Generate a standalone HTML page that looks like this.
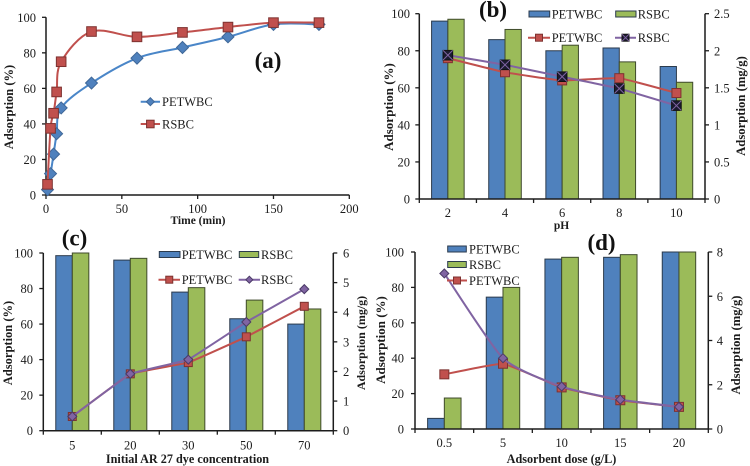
<!DOCTYPE html>
<html>
<head>
<meta charset="utf-8">
<style>
html,body{margin:0;padding:0;background:#fff;width:750px;height:466px;overflow:hidden}
svg{display:block;font-family:"Liberation Serif",serif;fill:#1c1c1c;filter:blur(0.35px)}
.t{font-size:12.5px}
.b{font-size:12.5px;font-weight:bold}
.p{font-size:23px;font-weight:bold;fill:#111}
</style>
</head>
<body>
<svg id="figure" width="750" height="466" viewBox="0 0 750 466" xmlns="http://www.w3.org/2000/svg">
<g id="chart-layer"></g>
<g>
<text class="p" x="268" y="68" text-anchor="middle">(a)</text>
<text class="p" x="493" y="17" text-anchor="middle">(b)</text>
<text class="p" x="74.5" y="245.5" text-anchor="middle">(c)</text>
<text class="p" x="601.5" y="250" text-anchor="middle">(d)</text>
</g>
<g>
<text class="b" style="font-size:11.5px" x="198" y="224" text-anchor="middle">Time (min)</text>
<text class="b" transform="translate(13,107) rotate(-90)" text-anchor="middle">Adsorption (%)</text>
<text class="b" style="font-size:11.5px" x="561.5" y="229" text-anchor="middle">pH</text>
<text class="b" style="font-size:13px" transform="translate(393,107) rotate(-90)" text-anchor="middle">Adsorption (%)</text>
<text class="b" style="font-size:12.7px" transform="translate(745,106) rotate(-90)" text-anchor="middle">Adsorption (mg/g)</text>
<text class="b" style="font-size:12.2px" x="187.5" y="463" text-anchor="middle">Initial AR 27 dye concentration</text>
<text class="b" transform="translate(12,343) rotate(-90)" text-anchor="middle">Adsorption (%)</text>
<text class="b" style="font-size:12px" transform="translate(365,343) rotate(-90)" text-anchor="middle">Adsorption (mg/g)</text>
<text class="b" style="font-size:12.2px" x="561.5" y="463" text-anchor="middle">Adsorbent dose (g/L)</text>
<text class="b" style="font-size:13px" transform="translate(385,340) rotate(-90)" text-anchor="middle">Adsorption (%)</text>
<text class="b" style="font-size:12.6px" transform="translate(740,345) rotate(-90)" text-anchor="middle">Adsorption (mg/g)</text>
</g>
<g id="legend-layer"></g>
</svg>
<script>
const aTimes = [1, 3, 5, 7, 10, 30, 60, 90, 120, 150, 180];
const aPet = [3, 12, 23, 34.5, 49, 63, 77, 83, 89, 96, 96];
const aRsb = [6, 37.5, 46, 58, 75, 92, 89, 91.5, 94.5, 97, 97];
const aXTicks = [0, 50, 100, 150, 200];
const pctTicks = [0, 20, 40, 60, 80, 100];

const bCats = ['2', '4', '6', '8', '10'];
const bBarPet = [96, 86, 80, 81.5, 71.5];
const bBarRsb = [97, 91.5, 83, 74, 63];
const bLinePet = [1.9, 1.71, 1.6, 1.63, 1.43];
const bLineRsb = [1.94, 1.81, 1.65, 1.49, 1.26];
const bRightTicks = [0, 0.5, 1, 1.5, 2, 2.5];

const cCats = ['5', '20', '30', '50', '70'];
const cBarPet = [98.5, 96, 78, 63, 60];
const cBarRsb = [100, 97, 80.5, 73.5, 68.5];
const cLinePet = [0.48, 1.92, 2.3, 3.17, 4.2];
const cLineRsb = [0.48, 1.92, 2.4, 3.67, 4.78];
const cRightTicks = [0, 1, 2, 3, 4, 5, 6];

const dCats = ['0.5', '5', '10', '15', '20'];
const dBarPet = [6, 74.5, 96, 97, 100];
const dBarRsb = [17.5, 80, 97, 98.5, 100];
const dLinePet = [2.47, 2.95, 1.88, 1.3, 1];
const dLineRsb = [7.03, 3.2, 1.92, 1.33, 1];
const dRightTicks = [0, 2, 4, 6, 8];

const NS = 'http://www.w3.org/2000/svg';
const layer = document.getElementById('chart-layer');
const legendLayer = document.getElementById('legend-layer');
const BLUE = '#4f81bd', GREEN = '#9bbb59', RED = '#c0504d', PURPLE = '#8064a2';
const LINE_BLUE = '#4a86c8';
const INK = '#1c1c1c';

function el(tag, attrs, parent) {
  const n = document.createElementNS(NS, tag);
  for (const k in attrs) n.setAttribute(k, attrs[k]);
  (parent || layer).appendChild(n);
  return n;
}
function label(x, y, str, anchor, parent, name) {
  const n = el('text', {x: x, y: y, 'text-anchor': anchor, class: 't'}, parent);
  n.textContent = str;
  
  
  return n;
}
function tick(x1, y1, x2, y2) {
  const n = el('line', {x1: x1, y1: y1, x2: x2, y2: y2, stroke: INK, 'stroke-width': 1.3});
  
  
}
function axisLine(x1, y1, x2, y2, name) {
  const n = el('line', {x1: x1, y1: y1, x2: x2, y2: y2, stroke: INK, 'stroke-width': 1.5});
  
  
}
function linear(d0, d1, r0, r1) {
  return v => r0 + (v - d0) / (d1 - d0) * (r1 - r0);
}
function smoothPath(pts, k) {
  let d = 'M' + pts[0][0] + ' ' + pts[0][1];
  for (let i = 0; i < pts.length - 1; i++) {
    const p0 = pts[Math.max(i - 1, 0)], p1 = pts[i], p2 = pts[i + 1], p3 = pts[Math.min(i + 2, pts.length - 1)];
    const c1x = p1[0] + (p2[0] - p0[0]) * k, c1y = p1[1] + (p2[1] - p0[1]) * k;
    const c2x = p2[0] - (p3[0] - p1[0]) * k, c2y = p2[1] - (p3[1] - p1[1]) * k;
    d += 'C' + c1x + ' ' + c1y + ' ' + c2x + ' ' + c2y + ' ' + p2[0] + ' ' + p2[1];
  }
  return d;
}
function marker(kind, x, y, r, parent, name) {
  let m;
  if (kind === 'blue-diamond' || kind === 'purple-diamond') {
    const fill = kind === 'blue-diamond' ? BLUE : PURPLE;
    const stroke = kind === 'blue-diamond' ? '#3f6797' : '#4a3a66';
    m = el('polygon', {points: [x, y - r, x + r, y, x, y + r, x - r, y].join(' '), fill: fill, stroke: stroke, 'stroke-width': 1}, parent);
  } else if (kind === 'x-square') {
    m = el('g', {}, parent);
    el('rect', {x: x - r, y: y - r, width: 2 * r, height: 2 * r, fill: '#1b1b30', stroke: '#111'}, m);
    el('path', {d: 'M' + (x - r) + ' ' + (y - r) + 'L' + (x + r) + ' ' + (y + r) + 'M' + (x + r) + ' ' + (y - r) + 'L' + (x - r) + ' ' + (y + r), stroke: PURPLE, 'stroke-width': 1}, m);
  } else {
    m = el('rect', {x: x - r, y: y - r, width: 2 * r, height: 2 * r, fill: RED, stroke: '#7d3230', 'stroke-width': 1}, parent);
  }
  
  
}
function series(xs, ys, color, kind, r, prefix, k) {
  const pts = xs.map((x, i) => [x, ys[i]]);
  const path = el('path', {d: smoothPath(pts, k), fill: 'none', stroke: color, 'stroke-width': 2});
  
  
  pts.forEach(p => marker(kind, p[0], p[1], r, layer, prefix + '-point'));
}
function comboPanel(o) {
  const y = linear(0, 100, o.bottom, o.top);
  const yR = linear(0, o.rightTicks[o.rightTicks.length - 1], o.bottom, o.top);
  const band = (o.right - o.left) / o.cats.length;
  const barW = band * o.barFrac;
  o.cats.forEach((c, i) => {
    const cx = o.left + band * (i + 0.5);
    const r1 = el('rect', {x: cx - barW, y: y(o.barPet[i]), width: barW, height: o.bottom - y(o.barPet[i]), fill: BLUE, stroke: '#2b3a4c', 'stroke-width': 1});
    
    
    const r2 = el('rect', {x: cx, y: y(o.barRsb[i]), width: barW, height: o.bottom - y(o.barRsb[i]), fill: GREEN, stroke: '#3f4a2c', 'stroke-width': 1});
    
    
  });
  axisLine(o.left, o.top, o.left, o.bottom, o.id + '-left-axis');
  axisLine(o.right, o.top, o.right, o.bottom, o.id + '-right-axis');
  axisLine(o.left, o.bottom, o.right, o.bottom, o.id + '-x-axis');
  pctTicks.forEach(t => {
    tick(o.left - 4, y(t), o.left, y(t));
    label(o.leftLabelX, y(t) + 4.5, String(t), 'end', layer, o.id + '-left-tick-label');
  });
  o.rightTicks.forEach(t => {
    tick(o.right, yR(t), o.right + 4, yR(t));
    label(o.rightLabelX, yR(t) + 4.5, String(t), 'start', layer, o.id + '-right-tick-label');
  });
  for (let i = 0; i <= o.cats.length; i++) {
    tick(o.left + band * i, o.bottom, o.left + band * i, o.bottom + 4);
  }
  o.cats.forEach((c, i) => {
    label(o.left + band * (i + 0.5), o.xLabelY, c, 'middle', layer, o.id + '-x-tick-label');
  });
  const xs = o.cats.map((c, i) => o.left + band * (i + 0.5));
  series(xs, o.linePet.map(yR), RED, 'square', o.petR, o.id + '-petwbc', o.petK);
  series(xs, o.lineRsb.map(yR), PURPLE, o.rsbKind, o.rsbR, o.id + '-rsbc', o.rsbK);
}

/* panel a */
(function () {
  const x = linear(0, 200, 46, 349.3);
  const y = linear(0, 100, 195, 17.3);
  axisLine(46, 17.3, 46, 195, 'a-y-axis');
  axisLine(46, 195, 349.3, 195, 'a-x-axis');
  pctTicks.forEach(t => {
    tick(42, y(t), 46, y(t));
    label(36, y(t) + 4.5, String(t), 'end', layer, 'a-y-tick-label');
  });
  aXTicks.forEach(t => {
    tick(x(t), 195, x(t), 199);
    label(x(t), 213, String(t), 'middle', layer, 'a-x-tick-label');
  });
  const xs = aTimes.map(x);
  series(xs, aPet.map(y), LINE_BLUE, 'blue-diamond', 6, 'a-petwbc', 1 / 6);
  series(xs, aRsb.map(y), RED, 'square', 4.8, 'a-rsbc', 1 / 6);
})();

comboPanel({id: 'b', left: 419.3, right: 705, top: 13.7, bottom: 199, barFrac: 0.285, cats: bCats,
  barPet: bBarPet, barRsb: bBarRsb, linePet: bLinePet, lineRsb: bLineRsb, rightTicks: bRightTicks,
  leftLabelX: 410, rightLabelX: 714, xLabelY: 217, petR: 4.5, rsbKind: 'x-square', rsbR: 4.8, petK: 0.06, rsbK: 0.06});
comboPanel({id: 'c', left: 43.3, right: 333.3, top: 253, bottom: 430.7, barFrac: 0.285, cats: cCats,
  barPet: cBarPet, barRsb: cBarRsb, linePet: cLinePet, lineRsb: cLineRsb, rightTicks: cRightTicks,
  leftLabelX: 33, rightLabelX: 343, xLabelY: 449.5, petR: 4, rsbKind: 'purple-diamond', rsbR: 4.5, petK: 0.03, rsbK: 0.03});
comboPanel({id: 'd', left: 415, right: 708.3, top: 252, bottom: 429, barFrac: 0.285, cats: dCats,
  barPet: dBarPet, barRsb: dBarRsb, linePet: dLinePet, lineRsb: dLineRsb, rightTicks: dRightTicks,
  leftLabelX: 404, rightLabelX: 716.7, xLabelY: 447, petR: 4.5, rsbKind: 'purple-diamond', rsbR: 4.5, petK: 0.05, rsbK: 0.1});

/* legends */
function swatchEntry(x1, x2, yMid, fill, textX, str, name) {
  const s = el('rect', {x: x1, y: yMid - 3, width: x2 - x1, height: 6, fill: fill, stroke: '#2b3a4c', 'stroke-width': 1}, legendLayer);
  
  
  label(textX, yMid + 4.5, str, 'start', legendLayer, name + '-label');
}
function lineEntry(x1, x2, yMid, color, kind, r, textX, str, name) {
  const l = el('line', {x1: x1, y1: yMid, x2: x2, y2: yMid, stroke: color, 'stroke-width': 2}, legendLayer);
  
  
  marker(kind, (x1 + x2) / 2, yMid, r, legendLayer, name + '-marker');
  label(textX, yMid + 4.5, str, 'start', legendLayer, name + '-label');
}
lineEntry(140.7, 160, 101.7, LINE_BLUE, 'blue-diamond', 4, 162, 'PETWBC', 'a-legend-petwbc');
lineEntry(140.7, 160, 124, RED, 'square', 3.8, 162, 'RSBC', 'a-legend-rsbc');
swatchEntry(529, 549.7, 14, BLUE, 551.7, 'PETWBC', 'b-legend-bar-petwbc');
swatchEntry(615.7, 636, 14, GREEN, 637.7, 'RSBC', 'b-legend-bar-rsbc');
lineEntry(528, 550, 37.7, RED, 'square', 3.5, 551.7, 'PETWBC', 'b-legend-line-petwbc');
lineEntry(615, 636, 37.7, PURPLE, 'x-square', 3.5, 637.7, 'RSBC', 'b-legend-line-rsbc');
swatchEntry(159.3, 180, 254.5, BLUE, 181.7, 'PETWBC', 'c-legend-bar-petwbc');
swatchEntry(239.3, 258.7, 254.5, GREEN, 261, 'RSBC', 'c-legend-bar-rsbc');
lineEntry(158.5, 180, 279.7, RED, 'square', 3.5, 181.7, 'PETWBC', 'c-legend-line-petwbc');
lineEntry(238.7, 260, 279.7, PURPLE, 'purple-diamond', 3.5, 261, 'RSBC', 'c-legend-line-rsbc');
swatchEntry(447.7, 466.3, 249, BLUE, 469, 'PETWBC', 'd-legend-bar-petwbc');
swatchEntry(447.7, 466.3, 264.5, GREEN, 469, 'RSBC', 'd-legend-bar-rsbc');
lineEntry(447, 467, 280.5, RED, 'square', 3.5, 469, 'PETWBC', 'd-legend-line-petwbc');
</script>
</body>
</html>
